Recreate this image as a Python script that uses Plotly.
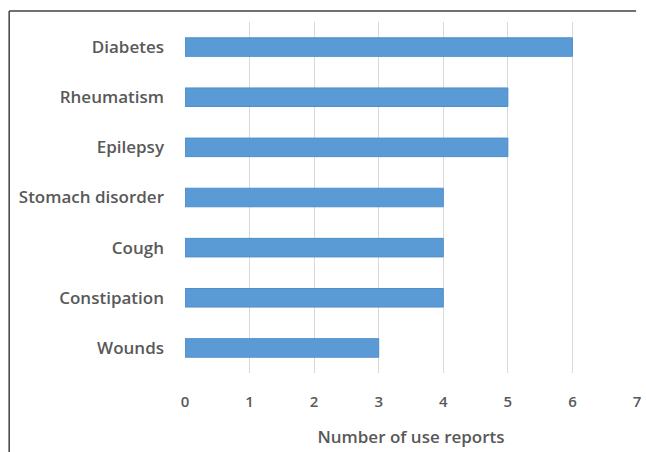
import plotly.graph_objects as go

categories = ["Diabetes", "Rheumatism", "Epilepsy", "Stomach disorder", "Cough", "Constipation", "Wounds"]
values = [6, 5, 5, 4, 4, 4, 3]
x_ticks = [0, 1, 2, 3, 4, 5, 6, 7]

fig = go.Figure(go.Bar(
    y=categories, x=values, orientation="h",
    marker=dict(color="#5B9BD5", line=dict(color="#4F8FCB", width=1)),
    width=0.37,
))

font_family = "Open Sans, sans-serif"
fig.update_layout(
    width=646, height=452,
    margin=dict(l=185, r=9, t=22, b=79, autoexpand=False),
    paper_bgcolor="white", plot_bgcolor="white",
    showlegend=False,
    font=dict(family=font_family, color="#595959"),
    xaxis=dict(
        range=[0, 7], tickvals=x_ticks, showgrid=True, gridcolor="#D9D9D9", gridwidth=1,
        zeroline=False, showline=False, ticks="", ticklabelstandoff=18,
        tickfont=dict(size=15, weight=600, color="#595959"),
        title=dict(text="Number of use reports", standoff=21,
                   font=dict(size=17, weight=600, color="#595959")),
        automargin=False,
    ),
    yaxis=dict(
        categoryorder="array", categoryarray=categories, autorange="reversed",
        showgrid=False, zeroline=False, showline=False, ticks="", ticklabelstandoff=20,
        tickfont=dict(size=17, weight=600, color="#595959"),
        automargin=False,
    ),
    shapes=[
        dict(type="line", xref="paper", yref="paper", x0=-0.389, x1=0.998, y0=1.0313, y1=1.0313,
             line=dict(color="#404040", width=1.5)),
        dict(type="line", xref="paper", yref="paper", x0=-0.389, x1=-0.389, y0=1.0313, y1=-0.3,
             line=dict(color="#404040", width=1.5)),
    ],
)

fig.write_html("out.html")
